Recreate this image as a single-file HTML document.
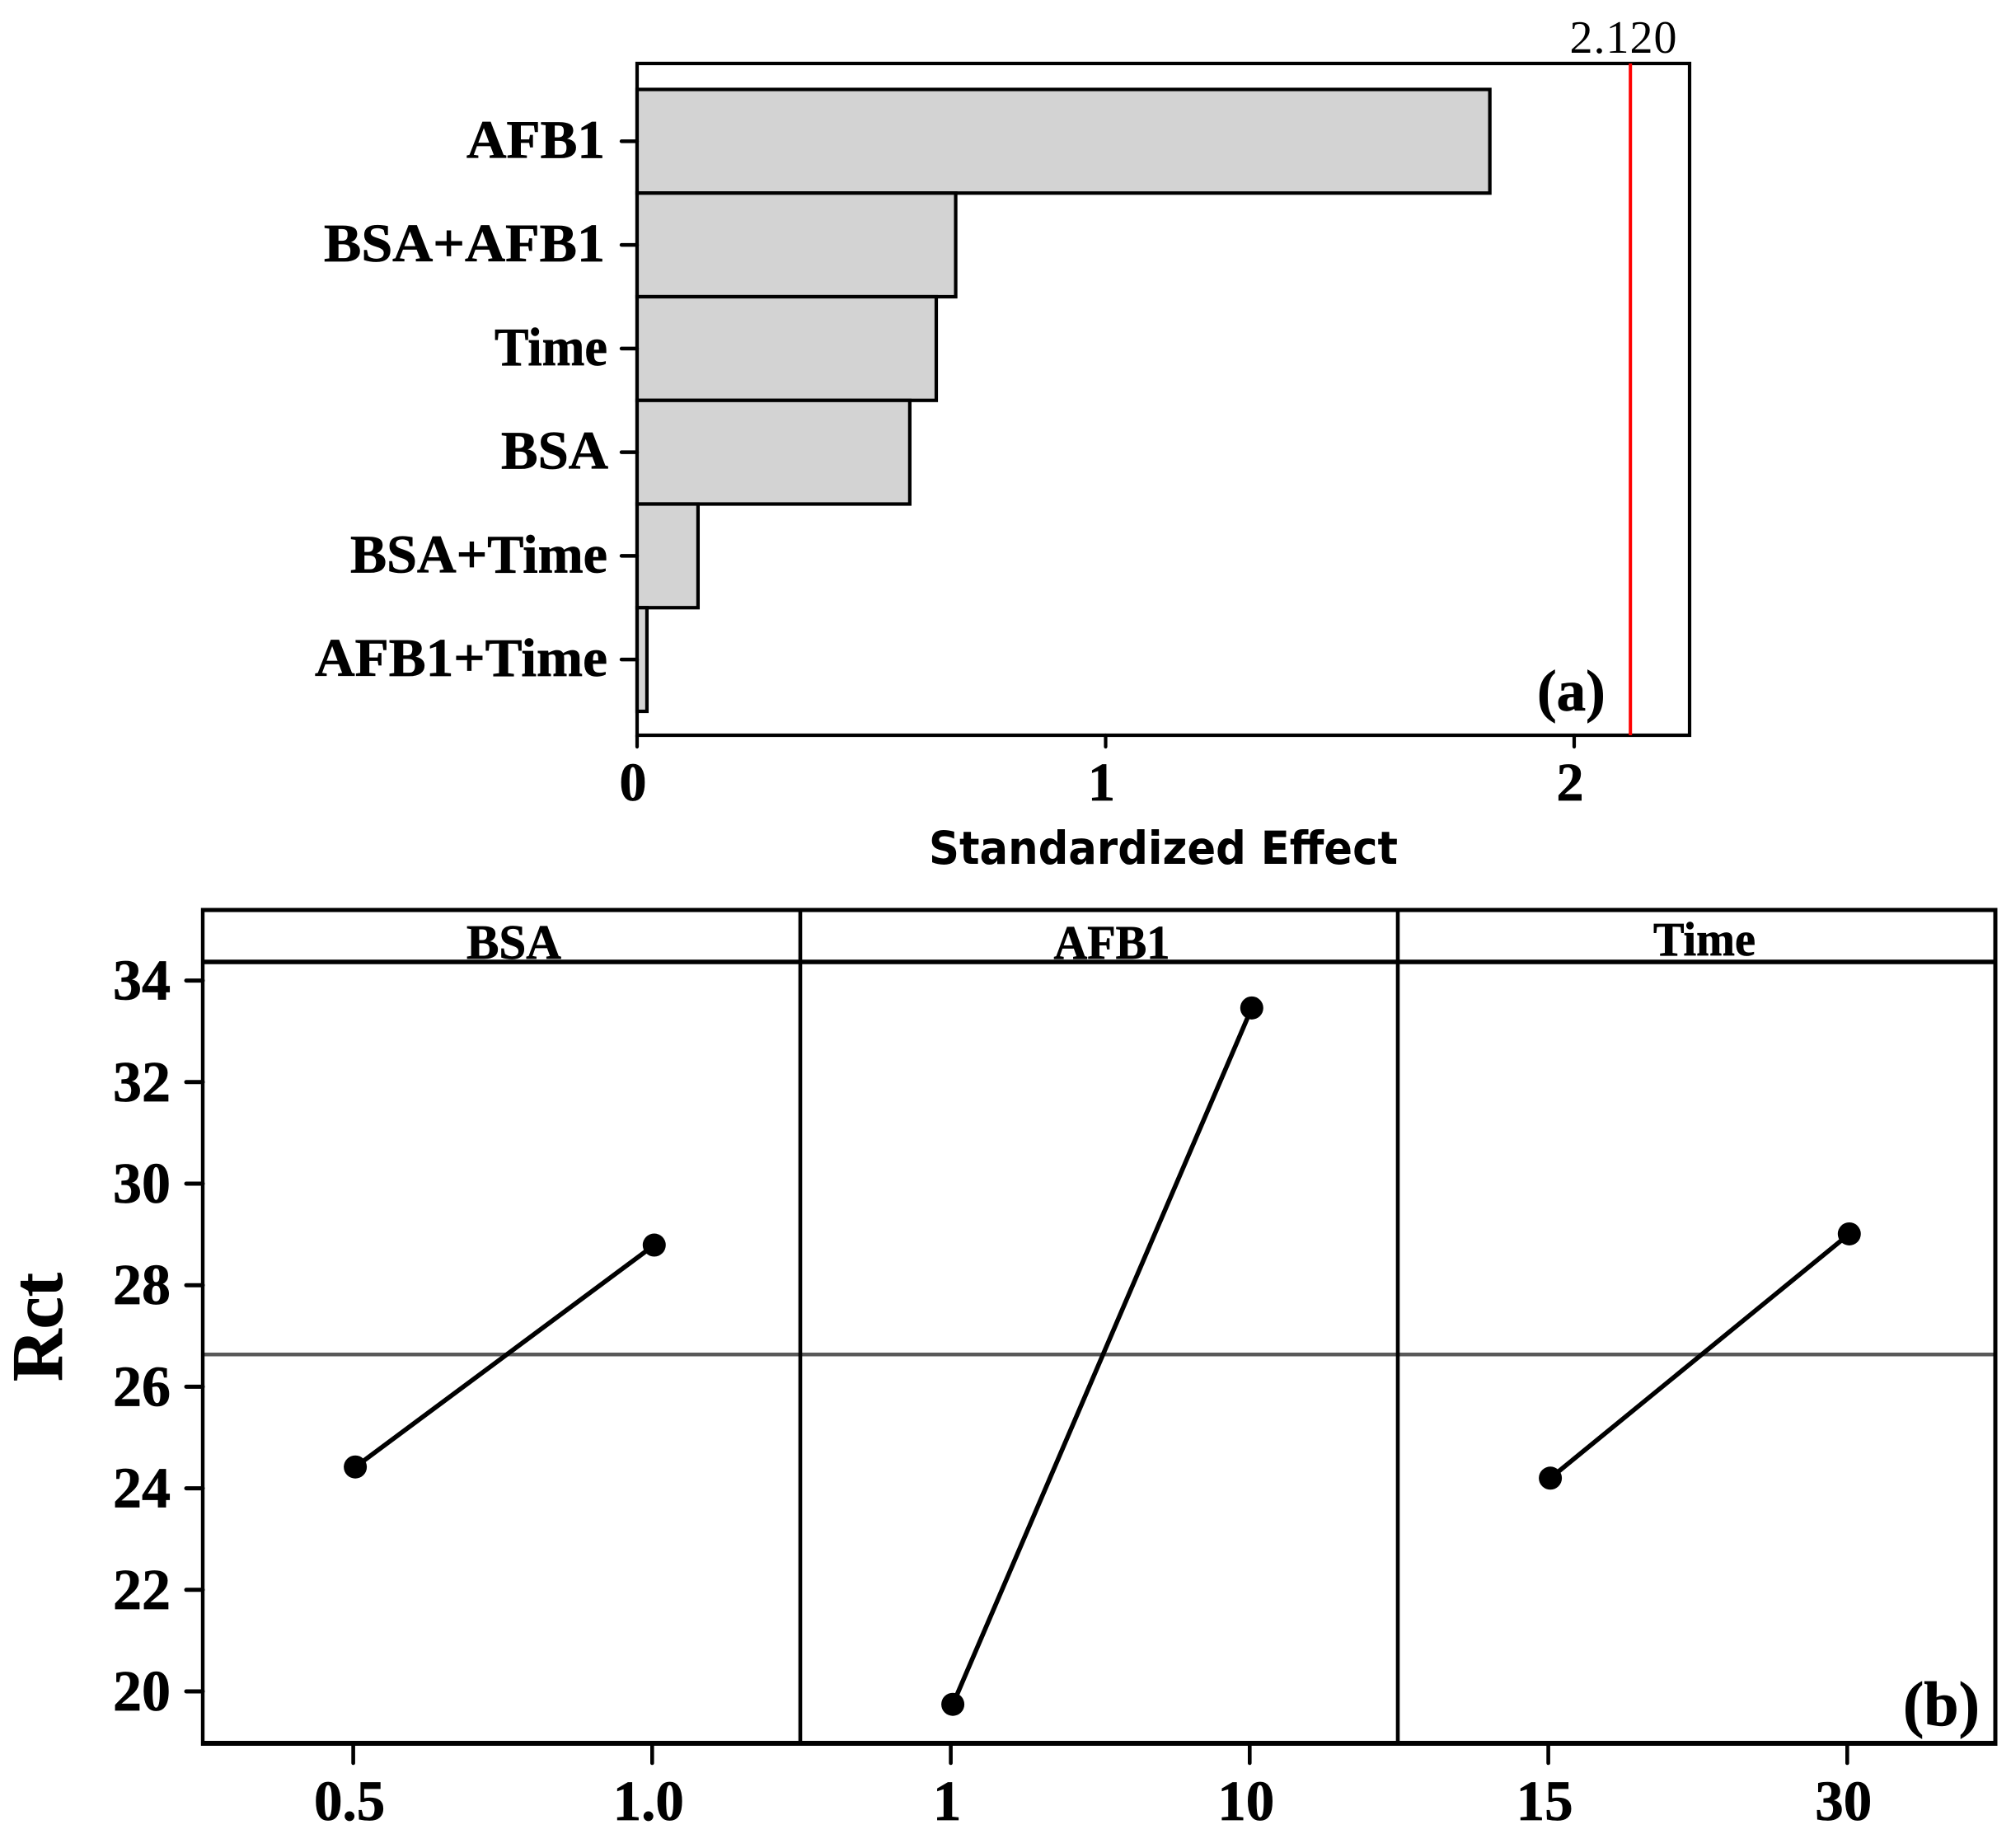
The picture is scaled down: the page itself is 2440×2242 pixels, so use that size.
<!DOCTYPE html>
<html lang="en">
<head>
<meta charset="utf-8">
<title>Pareto chart and main effects plot</title>
<style>
html,body{margin:0;padding:0;background:#fff;}
svg{display:block;}
.serif{font-family:"Liberation Serif",serif;font-weight:bold;fill:#000;stroke:#000;stroke-width:0.7px;}
</style>
</head>
<body>
<svg id="chart" xmlns="http://www.w3.org/2000/svg" width="2440" height="2242" viewBox="0 0 2440 2242">
  <rect x="0" y="0" width="2440" height="2242" fill="#fff"/>
  <g id="pareto"></g>
  <g id="effects"></g>
  <text x="1127" y="1048" font-family="DejaVu Sans, sans-serif" font-weight="bold" font-size="55" textLength="569" lengthAdjust="spacingAndGlyphs">Standardized Effect</text>
  <text class="serif" x="1865" y="862" font-size="71">(a)</text>
  <text class="serif" x="2309" y="2093" font-size="76">(b)</text>
  <text class="serif" font-size="88" text-anchor="middle" transform="translate(75 1610) rotate(-90)">Rct</text>
</svg>
<script>
var paretoCategories = ['AFB1', 'BSA+AFB1', 'Time', 'BSA', 'BSA+Time', 'AFB1+Time'];
var paretoValues = [1.82, 0.68, 0.6385, 0.582, 0.13, 0.021];
var paretoTicks = [0, 1, 2];
var paretoReference = 2.12;
var paretoReferenceLabel = '2.120';

var effectFactors = ['BSA', 'AFB1', 'Time'];
var effectLevels = [['0.5', '1.0'], ['1', '10'], ['15', '30']];
var bsaMeans = [24.42, 28.79];
var afb1Means = [19.745, 33.46];
var timeMeans = [24.2, 29.01];
var grandMean = 26.635;
var effectTicks = [20, 22, 24, 26, 28, 30, 32, 34];

var NS = 'http://www.w3.org/2000/svg';
function make(parent, tag, attrs, text) {
  var el = document.createElementNS(NS, tag);
  for (var k in attrs) { el.setAttribute(k, attrs[k]); }
  if (text !== undefined) { el.textContent = text; }
  parent.appendChild(el);
  return el;
}

/* ---------- Pareto chart ---------- */
var pareto = document.getElementById('pareto');
var pLeft = 773, pRight = 2050, pTop = 77, pBottom = 892;
var pBandTop = 108.5, pBandStep = 125.75;
function px(v) { return pLeft + v * 568.5; }
function pBand(i) { return pBandTop + i * pBandStep; }

var labelTextWidth = {'AFB1': 168, 'BSA+AFB1': 341, 'Time': 137, 'BSA': 130, 'BSA+Time': 312, 'AFB1+Time': 355};
var labelRightEdge = {'AFB1': 734, 'BSA+AFB1': 734, 'Time': 737, 'BSA': 738, 'BSA+Time': 737, 'AFB1+Time': 737};

var frame = make(pareto, 'rect', {x: pLeft, y: pTop, width: pRight - pLeft, height: pBottom - pTop, fill: 'none', stroke: '#000', 'stroke-width': 4.2});



paretoValues.forEach(function (v, i) {
  var bar = make(pareto, 'rect', {x: px(0), y: pBand(i), width: px(v) - px(0), height: pBandStep, fill: '#d3d3d3', stroke: '#000', 'stroke-width': 4.2});
  
  

  var cy = pBand(i) + pBandStep / 2;
  var tick = make(pareto, 'line', {x1: 754, x2: pLeft, y1: cy, y2: cy, stroke: '#000', 'stroke-width': 4.4, 'stroke-linecap': 'round'});
  
  

  var name = paretoCategories[i];
  var label = make(pareto, 'text', {x: labelRightEdge[name], y: cy + 20, 'text-anchor': 'end', 'font-size': 66, textLength: labelTextWidth[name], lengthAdjust: 'spacingAndGlyphs', 'class': 'serif'}, name);
  
  
});

paretoTicks.forEach(function (t) {
  var tick = make(pareto, 'line', {x1: px(t), x2: px(t), y1: pBottom, y2: 906, stroke: '#000', 'stroke-width': 4.2, 'stroke-linecap': 'round'});
  
  

  var label = make(pareto, 'text', {x: px(t) - 5, y: 971, 'text-anchor': 'middle', 'font-size': 66, 'class': 'serif'}, String(t));
  
  
});

var refLine = make(pareto, 'line', {x1: px(paretoReference), x2: px(paretoReference), y1: pTop, y2: pBottom, stroke: '#ff0000', 'stroke-width': 4});



var refLabel = make(pareto, 'text', {x: 1970, y: 64, 'text-anchor': 'middle', 'font-size': 56, 'letter-spacing': 1, 'font-family': 'Liberation Serif, serif', fill: '#000'}, paretoReferenceLabel);



/* ---------- Main effects chart ---------- */
var effects = document.getElementById('effects');
var eLeft = 246, ePanel = 725, eTop = 1104, eStrip = 1167, eBottom = 2115;
var eRight = eLeft + ePanel * effectFactors.length;
var effectSeries = [bsaMeans, afb1Means, timeMeans];
function ey(v) { return 2052 - (v - 20) * 61.6; }
function ex(panel, level) { return eLeft + panel * ePanel + 182.6 + level * 362.7; }

var stripLabelX = [623.5, 1349, 2068];
var stripLabelY = [1163, 1163, 1159];
var stripLabelSize = [59, 58, 58];
var stripLabelWidth = [115, 141, 124];

var meanLine = make(effects, 'line', {x1: eLeft, x2: eRight, y1: ey(grandMean), y2: ey(grandMean), stroke: '#595959', 'stroke-width': 4.5});



effectSeries.forEach(function (series, p) {
  var path = make(effects, 'line', {x1: ex(p, 0) + 2.5, y1: ey(series[0]), x2: ex(p, 1) + 2.5, y2: ey(series[1]), stroke: '#000', 'stroke-width': 5.6});
  
  

  series.forEach(function (v, l) {
    var dot = make(effects, 'circle', {cx: ex(p, l) + 2.5, cy: ey(v), r: 14, fill: '#000'});
    
    

    var tick = make(effects, 'line', {x1: ex(p, l), x2: ex(p, l), y1: eBottom, y2: 2139, stroke: '#000', 'stroke-width': 4.6, 'stroke-linecap': 'round'});
    
    

    var label = make(effects, 'text', {x: ex(p, l) - 4.5, y: 2208, 'text-anchor': 'middle', 'font-size': 69, 'class': 'serif'}, effectLevels[p][l]);
    
    
  });

  var strip = make(effects, 'text', {x: stripLabelX[p], y: stripLabelY[p], 'text-anchor': 'middle', 'font-size': stripLabelSize[p], textLength: stripLabelWidth[p], lengthAdjust: 'spacingAndGlyphs', 'class': 'serif'}, effectFactors[p]);
  
  
});

effectTicks.forEach(function (t) {
  var tick = make(effects, 'line', {x1: 226, x2: eLeft, y1: ey(t), y2: ey(t), stroke: '#000', 'stroke-width': 5, 'stroke-linecap': 'round'});
  
  

  var label = make(effects, 'text', {x: 207, y: ey(t) + 23, 'text-anchor': 'end', 'font-size': 70, 'class': 'serif'}, String(t));
  
  
});

var leftAxis = make(effects, 'line', {x1: eLeft, x2: eLeft, y1: eTop - 2.5, y2: eBottom + 3, stroke: '#000', 'stroke-width': 4.4});



var rightAxis = make(effects, 'line', {x1: eRight, x2: eRight, y1: eTop - 2.5, y2: eBottom + 3, stroke: '#000', 'stroke-width': 5});



var topAxis = make(effects, 'line', {x1: eLeft, x2: eRight + 2.5, y1: eTop, y2: eTop, stroke: '#000', 'stroke-width': 5});



var stripRule = make(effects, 'line', {x1: eLeft, x2: eRight, y1: eStrip, y2: eStrip, stroke: '#000', 'stroke-width': 5.5});



var bottomAxis = make(effects, 'line', {x1: eLeft - 2, x2: eRight + 2.5, y1: eBottom, y2: eBottom, stroke: '#000', 'stroke-width': 6});



for (var d = 1; d < effectFactors.length; d++) {
  var divider = make(effects, 'line', {x1: eLeft + d * ePanel, x2: eLeft + d * ePanel, y1: eTop, y2: eBottom, stroke: '#000', 'stroke-width': 4.6});
  
  
}
</script>
</body>
</html>
